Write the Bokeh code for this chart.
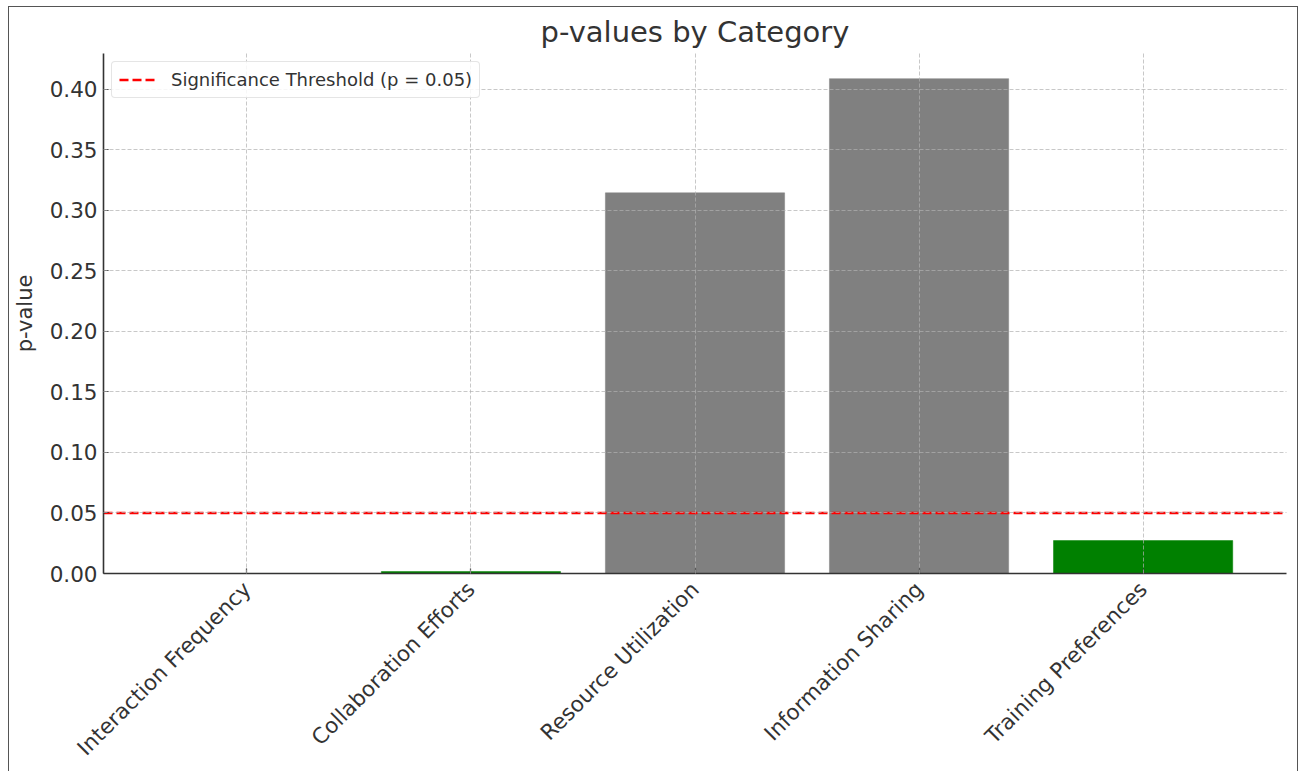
import math
from bokeh.plotting import figure
from bokeh.models import (Range1d, FixedTicker, NumeralTickFormatter,
                          Legend, LegendItem, ColumnDataSource)
from bokeh.embed import file_html
from bokeh.resources import INLINE

# ---- data ----
categories = ["Interaction Frequency", "Collaboration Efforts", "Resource Utilization",
              "Information Sharing", "Training Preferences"]
p_values = [0.00002, 0.0016, 0.3144, 0.4087, 0.0272]
threshold = 0.05
y_ticks = [0.00, 0.05, 0.10, 0.15, 0.20, 0.25, 0.30, 0.35, 0.40]

FONT = "DejaVu Sans"
TXT = "#333333"

xs = list(range(len(categories)))
colors = ["#008000" if v < threshold else "#808080" for v in p_values]
src = ColumnDataSource(dict(x=xs, top=p_values, color=colors))

x_lo, x_hi = -0.64, len(categories) - 1 + 0.64

p = figure(width=1290, height=765, output_backend="svg", toolbar_location=None,
           x_range=Range1d(x_lo, x_hi),
           y_range=Range1d(0, 0.4295),
           min_border_left=94, min_border_right=13, min_border_top=42, min_border_bottom=197)

p.vbar(x="x", top="top", bottom=0, width=0.8, fill_color="color", line_color="color",
       line_width=0.5, source=src)

thr_line = p.line(x=[x_lo, x_hi], y=[threshold, threshold], line_color="#ff0000",
                  line_dash="9 4", line_width=2.6)

legend = Legend(items=[LegendItem(label="Significance Threshold (p = 0.05)",
                                  renderers=[thr_line])],
                location="top_left", margin=8, padding=7, spacing=0,
                glyph_width=38, glyph_height=19, label_height=19, label_standoff=14,
                label_text_font=FONT, label_text_font_size="18px",
                label_text_color=TXT, border_line_color="#cccccc",
                border_line_width=1, background_fill_alpha=0.85,
                border_radius=4)
p.add_layout(legend)

# title
p.title.text = "p-values by Category"
p.title.align = "center"
p.title.text_font = FONT
p.title.text_font_size = "29px"
p.title.text_font_style = "normal"
p.title.text_color = TXT

p.outline_line_color = None
p.background_fill_color = "white"
p.border_fill_color = "white"

# axes
p.xaxis.ticker = FixedTicker(ticks=xs)
p.xaxis.major_label_overrides = {i: c for i, c in enumerate(categories)}
p.xaxis.major_label_orientation = math.pi / 4
p.yaxis.ticker = FixedTicker(ticks=y_ticks)
p.yaxis.formatter = NumeralTickFormatter(format="0.00")
p.yaxis.axis_label = "p-value"
for ax in (p.xaxis[0], p.yaxis[0]):
    ax.axis_line_color = "#333333"
    ax.axis_line_width = 1.6
    ax.major_tick_line_color = "#333333"
    ax.major_tick_line_width = 1.2
    ax.major_tick_in = 5
    ax.major_tick_out = 0
    ax.minor_tick_line_color = None
    ax.major_label_text_font = FONT
    ax.major_label_text_font_size = "21.5px"
    ax.major_label_text_color = TXT
    ax.axis_label_text_font = FONT
    ax.axis_label_text_font_size = "21px"
    ax.axis_label_text_font_style = "normal"
    ax.axis_label_text_color = TXT
p.yaxis.major_label_standoff = 6
p.xaxis.major_label_standoff = 12
p.yaxis.axis_label_standoff = 10

# grid
for g in (p.xgrid[0], p.ygrid[0]):
    g.grid_line_color = "#b0b0b0"
    g.grid_line_alpha = 0.7
    g.grid_line_dash = "4 2"
    g.grid_line_width = 1
    g.level = "overlay"
p.ygrid.ticker = FixedTicker(ticks=y_ticks)
p.xgrid.ticker = FixedTicker(ticks=xs)

p.styles = {"margin-left": "8px", "margin-top": "6px",
            "border-left": "1.5px solid #555555", "border-top": "1.5px solid #555555",
            "border-right": "1.5px solid #555555", "box-sizing": "border-box"}

open("out.html", "w").write(file_html(p, INLINE))
